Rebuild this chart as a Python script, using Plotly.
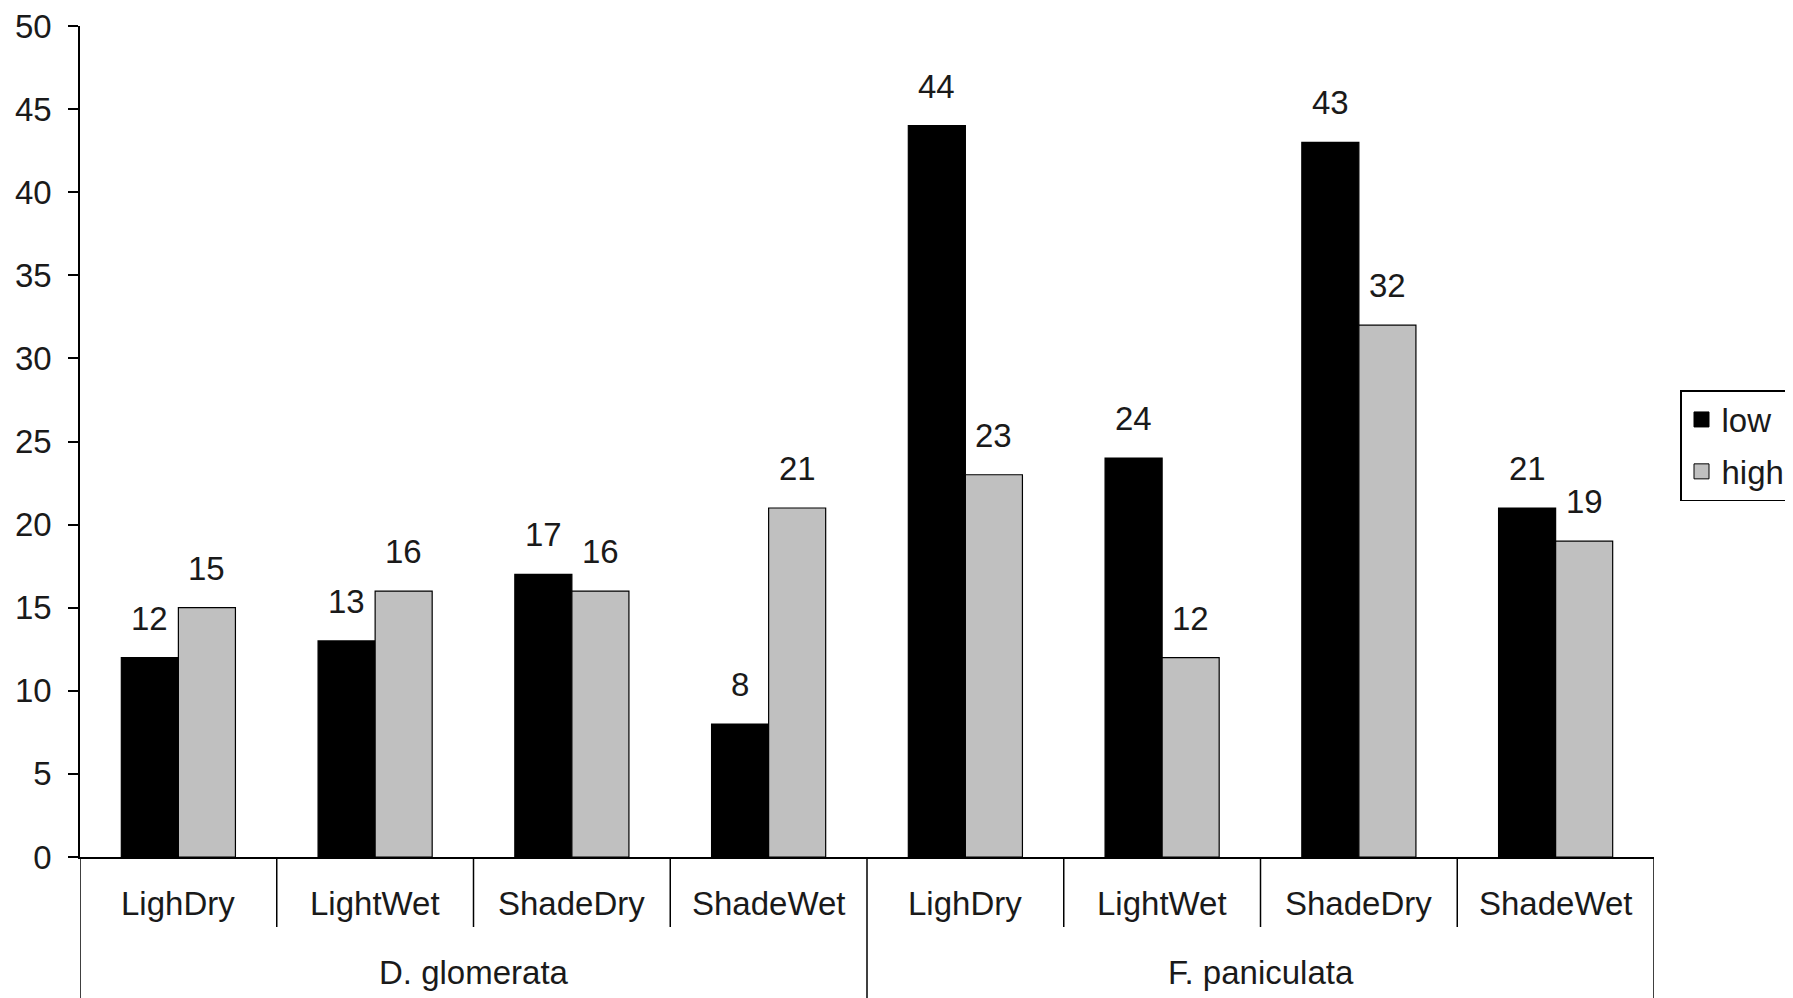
import plotly.graph_objects as go

# data
groups = ["D. glomerata", "F. paniculata"]
treatments = ["LighDry", "LightWet", "ShadeDry", "ShadeWet"]
categories = treatments + treatments
low_vals = [12, 13, 17, 8, 44, 24, 43, 21]
high_vals = [15, 16, 16, 21, 23, 12, 32, 19]
series_names = ["low", "high"]
series_colors = ["#000000", "#c0c0c0"]

font_family = "Liberation Sans, Arial, sans-serif"
text_col = "#1a1a1a"
fsize = 33

W, H = 1793, 998
body = 8  # default page margin around the plot div
left, top = 80 - body, 26 - body
right = W - (1654 - body)
bottom = H - (857 - body)
plot_h = H - top - bottom

bargap = 0.42
xs = list(range(len(categories)))
off = (1 - bargap) / 4

fig = go.Figure()
for name, vals, col in zip(series_names, [low_vals, high_vals], series_colors):
    fig.add_trace(go.Bar(x=xs, y=vals, name=name, showlegend=False,
                         marker=dict(color=col, line=dict(color="#000000", width=1.2))))
    # legend entry with a bigger square swatch
    fig.add_trace(go.Scatter(x=[None], y=[None], mode="markers", name=name, legendgroup=name,
                             marker=dict(symbol="square", size=15, color=col,
                                         line=dict(color="#000000", width=1))))

# value labels above the bars
for i in xs:
    for val, dx in ((low_vals[i], -off), (high_vals[i], off)):
        fig.add_annotation(x=i + dx, y=val, text=str(val), showarrow=False,
                           yanchor="bottom", yshift=19,
                           font=dict(size=fsize, color=text_col, family=font_family))

# category labels and dividers under the axis
def py(px_below):
    return -px_below / plot_h

for i, c in enumerate(categories):
    fig.add_annotation(x=i, y=py(46), xref="x", yref="paper", text=c, showarrow=False,
                       xanchor="center", yanchor="middle",
                       font=dict(size=fsize, color=text_col, family=font_family))
n_per = len(treatments)
for g, name in enumerate(groups):
    fig.add_annotation(x=g * n_per + (n_per - 1) / 2, y=py(115), xref="x", yref="paper", text=name,
                       showarrow=False, xanchor="center", yanchor="middle",
                       font=dict(size=fsize, color=text_col, family=font_family))

for k in range(len(categories) + 1):
    depth = 141 if k % n_per == 0 else 70
    fig.add_shape(type="line", xref="x", yref="paper", x0=k - 0.5, x1=k - 0.5, y0=0, y1=py(depth),
                  line=dict(color="#000000", width=1.5))

fig.update_layout(
    width=W, height=H,
    margin=dict(l=left, r=right, t=top, b=bottom, autoexpand=False),
    plot_bgcolor="white", paper_bgcolor="white",
    barmode="group", bargap=bargap, bargroupgap=0,
    font=dict(family=font_family, size=fsize, color=text_col),
    showlegend=True,
    legend=dict(xref="container", yref="container", x=(1791 - body) / W, y=1 - (390 - body) / H,
                xanchor="right", yanchor="top", bordercolor="#000000", borderwidth=1.5,
                bgcolor="white", font=dict(size=fsize, color=text_col, family=font_family),
                itemwidth=30, tracegroupgap=6, traceorder="grouped"),
    xaxis=dict(range=[-0.5, len(categories) - 0.5], showticklabels=False, showgrid=False,
               zeroline=False, showline=True, linecolor="#000000", linewidth=1.5, ticks="",
               automargin=False),
    yaxis=dict(range=[0, 50], dtick=5, showgrid=False, zeroline=False, showline=True,
               linecolor="#000000", linewidth=1.5, ticks="outside", ticklen=10,
               tickcolor="#000000", tickwidth=1.5, ticklabelstandoff=10,
               ticklabeloverflow="allow", automargin=False,
               tickfont=dict(size=fsize, color=text_col, family=font_family)),
)

fig.write_html("out.html")
